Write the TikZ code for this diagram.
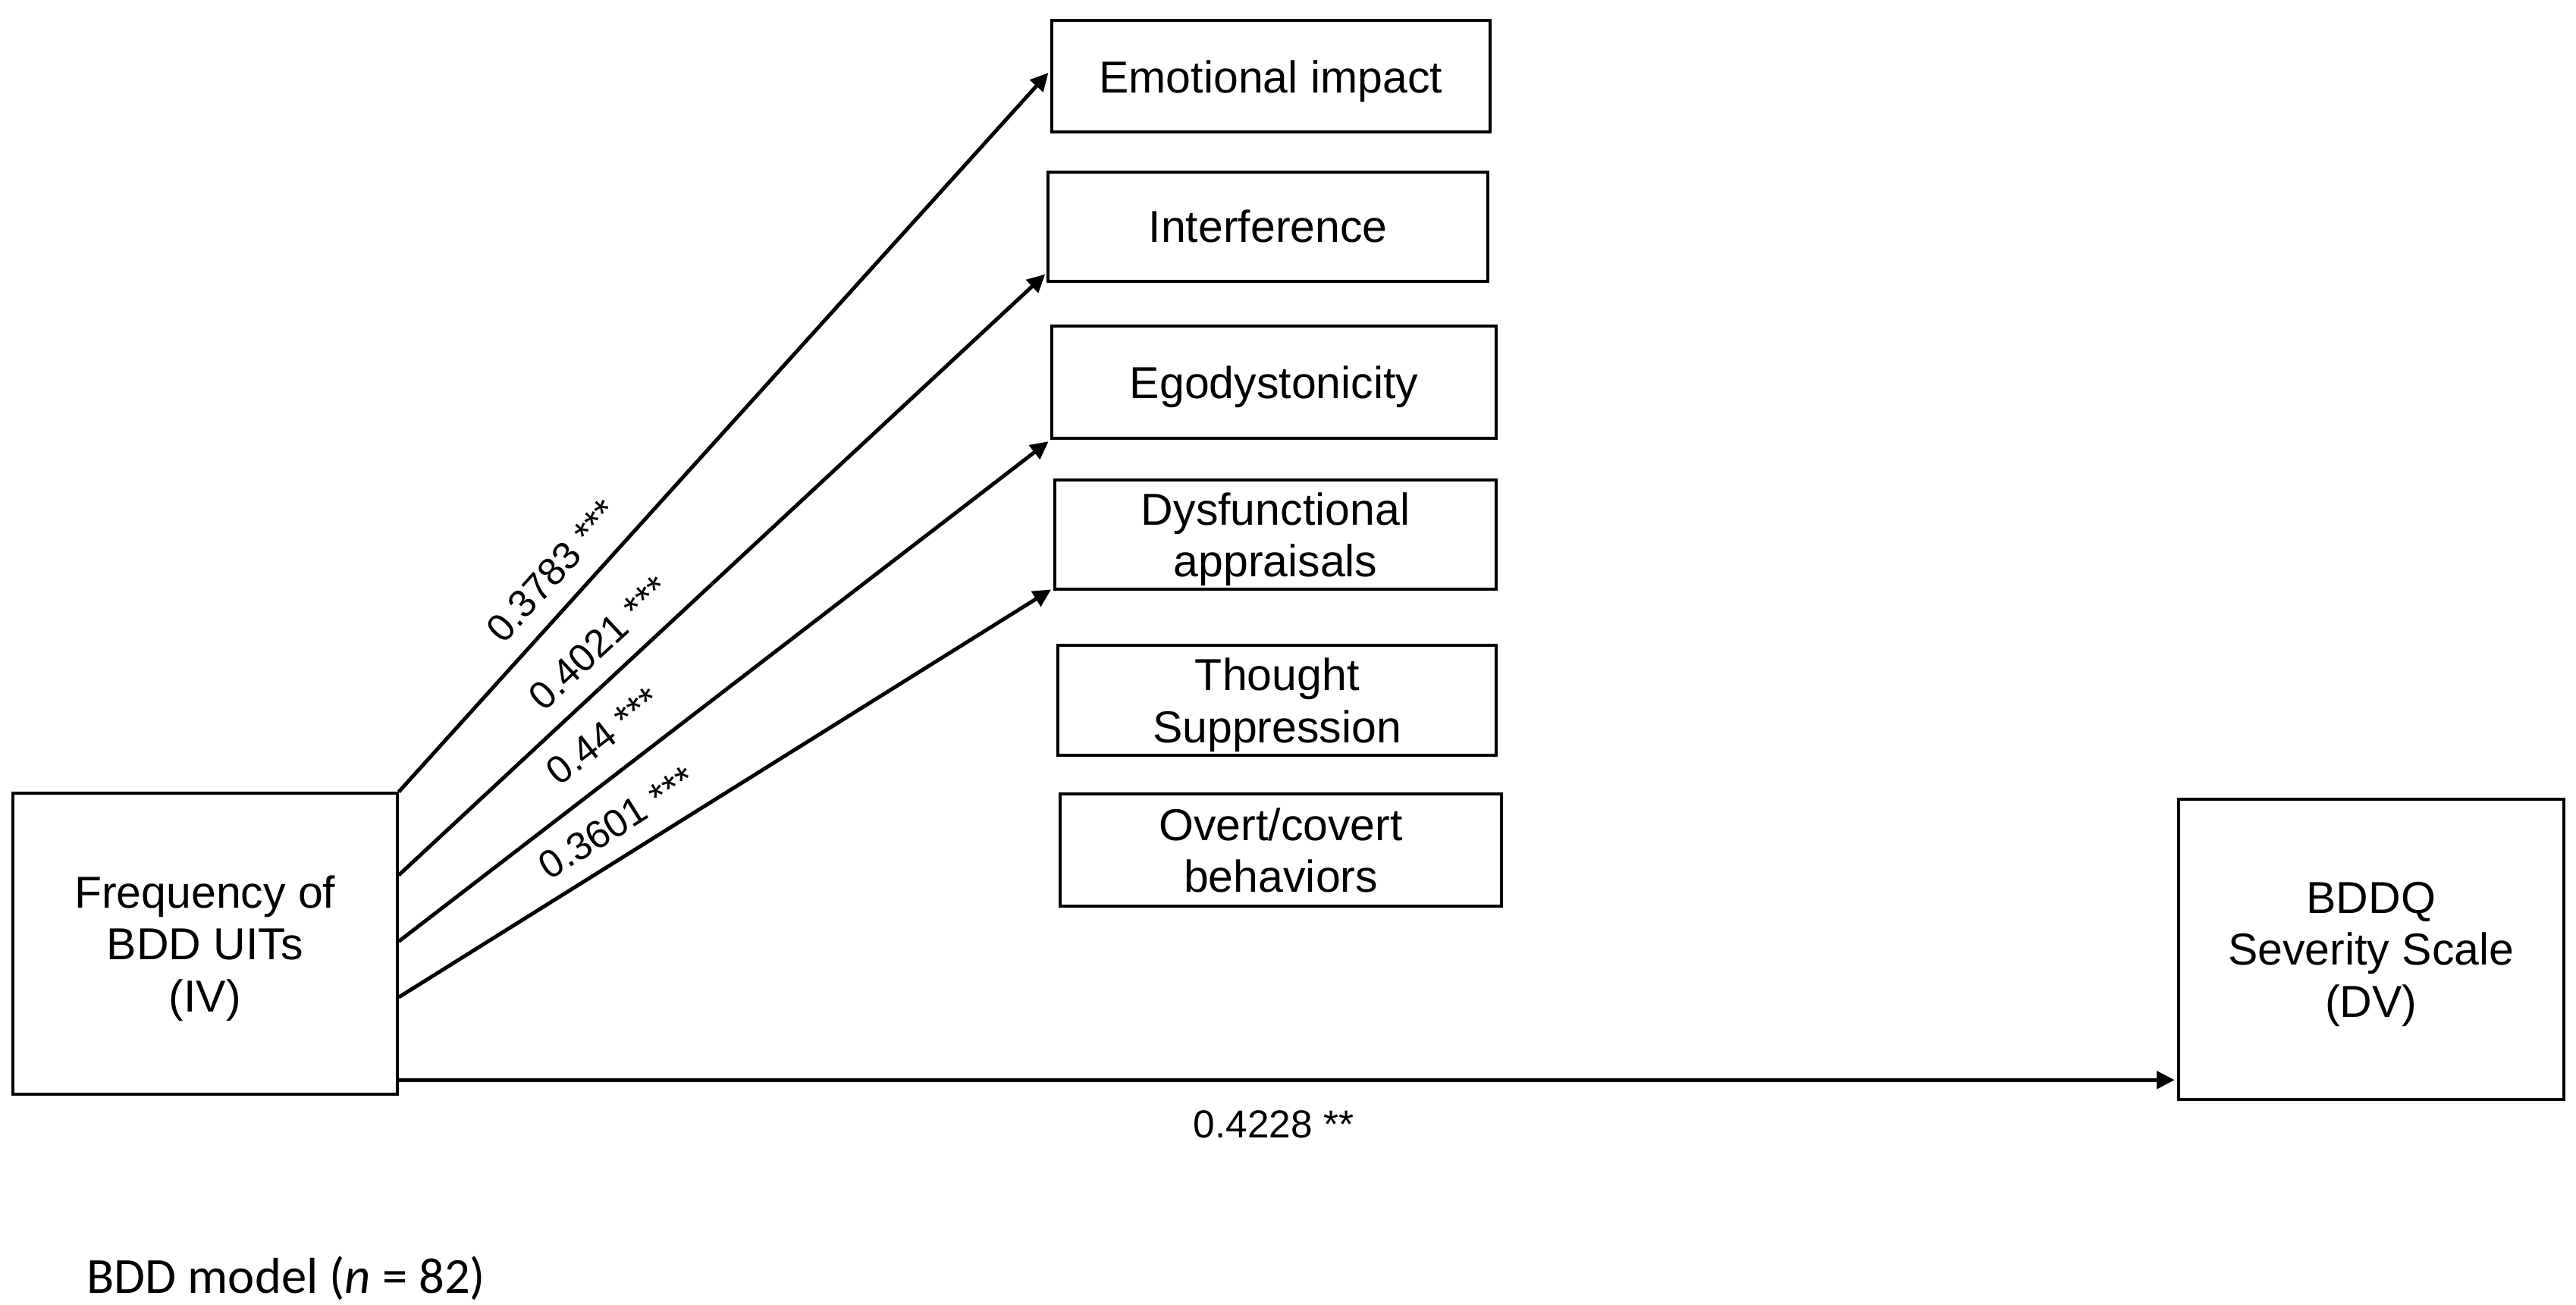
\documentclass[tikz,border=0pt]{standalone}
\usepackage{fontspec}
\setmainfont{Liberation Sans}
\newfontfamily\calibri{Carlito}
\usetikzlibrary{arrows.meta}

\begin{document}
\begin{tikzpicture}[
  box/.style={draw, line width=1.05pt, inner sep=0pt, text depth=0pt, align=center, font=\fontsize{15.5}{18}\selectfont},
  arr/.style={line width=1.3pt, -{Triangle[length=6.2pt,width=6pt]}, shorten >=0.8pt},
  coef/.style={font=\fontsize{13.5}{16}\selectfont}]

\useasboundingbox (0,0) rectangle (31.36,15.88);

% Independent and dependent variable
\node[box, minimum width=4.68cm, minimum height=3.66cm] (iv) at (2.495,4.39) {Frequency of\\BDD UITs\\(IV)};
\node[box, minimum width=4.69cm, minimum height=3.66cm] (dv) at (28.865,4.32) {BDDQ\\Severity Scale\\(DV)};

% Mediators
\node[box, minimum width=5.34cm, minimum height=1.36cm] (emo) at (15.47,14.95) {Emotional impact};
\node[box, minimum width=5.35cm, minimum height=1.33cm] (intf) at (15.437,13.123) {Interference};
\node[box, minimum width=5.41cm, minimum height=1.37cm] (ego) at (15.51,11.226) {Egodystonicity};
\node[box, minimum width=5.38cm, minimum height=1.33cm] (dys) at (15.528,9.371) {Dysfunctional\\appraisals};
\node[box, minimum width=5.34cm, minimum height=1.34cm] (sup) at (15.548,7.352) {Thought\\Suppression};
\node[box, minimum width=5.37cm, minimum height=1.37cm] (beh) at (15.593,5.531) {Overt/covert\\behaviors};

% Paths from IV to mediators
\foreach \s/\t/\a/\u/\lab/\p/\d in {0/emo/west/0.065/0.3783/0.275/3pt,
    -1.014/intf/south west/0.12/0.4021/0.345/3pt,
    -1.82/ego/south west/0/0.44/0.35/4.5pt,
    -2.5/dys/south west/0.03/0.3601/0.36/2.5pt} {
    \draw[arr] ([yshift=\s cm]iv.north east) -- ([yshift=\u cm]\t.\a)
        node[coef, pos=\p, sloped, above=\d] {\lab\ ***};
}

% Direct path
\draw[arr] ([yshift=0.19cm]iv.south east) -- ([yshift=0.19cm]iv.south east -| dv.west)
    node[coef, pos=0.492, below=6.5pt] {0.4228 **};

% Caption
\node[anchor=base west, inner sep=0pt, font=\calibri\fontsize{17.5}{20}\selectfont] (cap) at (1.05,0.14) {BDD model (\textit{n} = 82)};

\end{tikzpicture}
\end{document}
